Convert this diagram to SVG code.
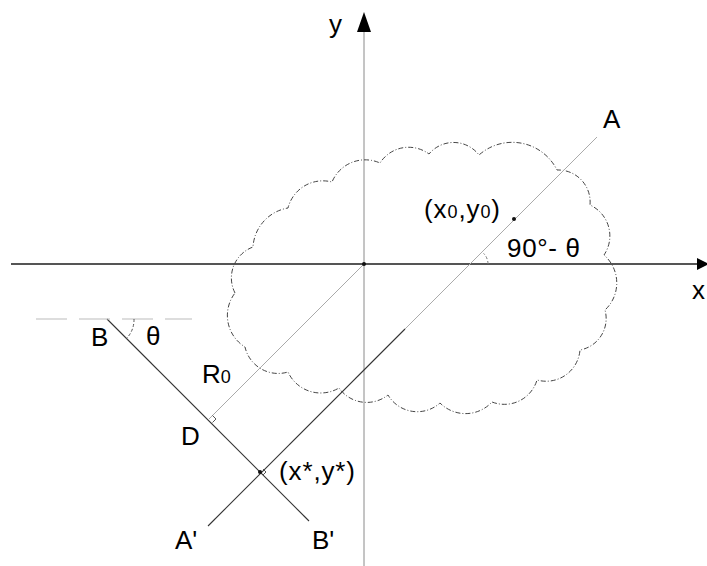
<svg xmlns="http://www.w3.org/2000/svg" width="707" height="566" viewBox="0 0 707 566">
<style>
.lbl{font-family:"Liberation Sans",Arial,sans-serif;font-size:26px;fill:#000}
.sub{font-size:18px}
.dark{stroke:#333;stroke-width:1.1;fill:none}
.light{stroke:#aaa;stroke-width:1;fill:none}
.cloud{stroke:#444;stroke-width:1;fill:none;stroke-dasharray:5 2 1 2}
.dot{fill:#111}
</style>
<rect width="707" height="566" fill="#fff"/>
<g id="axes">
<line x1="364" y1="30" x2="364" y2="566" stroke="#8a8a8a" stroke-width="1"/>
<polygon points="364,12 357,32 371,32" fill="#000"/>
<line x1="11" y1="264" x2="699" y2="264" stroke="#555" stroke-width="2"/>
<polygon points="697,258 697,270 709,264" fill="#000"/>
</g>
<g id="cloud">
<path class="cloud" d="M235,293 A33,33 0 0 1 253,247 A42,42 0 0 1 288,208 A36,36 0 0 1 332,182 A36,36 0 0 1 380,163 A34,34 0 0 1 429,154 A32,32 0 0 1 479,155 A50,50 0 0 1 557,170 A32,32 0 0 1 590,205 A34,34 0 0 1 604,255 A37,37 0 0 1 605,310 A32,32 0 0 1 580,350 A34,34 0 0 1 537,380 A34,34 0 0 1 492,402 A36,36 0 0 1 440,403 A34,34 0 0 1 388,395 A34,34 0 0 1 339,388 A36,36 0 0 1 288,372 A34,34 0 0 1 245,347 A37,37 0 0 1 235,293 Z"/>
</g>
<g id="connectors">
<line class="dark" x1="208" y1="526" x2="405" y2="329"/>
<line class="light" x1="405" y1="329" x2="597" y2="137" stroke="#bbb"/>
<line class="dark" x1="107" y1="319" x2="309" y2="521"/>
<line class="light" x1="364" y1="264" x2="209" y2="419"/>
<line x1="36" y1="319" x2="192" y2="319" stroke="#bbb" stroke-width="1" stroke-dasharray="31 12"/>
<path d="M134,319 A27,27 0 0 1 126.5,338.5" fill="none" stroke="#555" stroke-width="1" stroke-dasharray="3 2"/>
<path d="M488,264 A15,15 0 0 0 483.6,253.4" fill="none" stroke="#777" stroke-width="1" stroke-dasharray="3 2"/>
<path d="M212.5,415.5 L216,419 L212.5,422.5" fill="none" stroke="#555" stroke-width="1"/>
<path d="M263,469 L266,472 L263,475" fill="none" stroke="#555" stroke-width="1"/>
</g>
<g id="points">
<circle class="dot" cx="364" cy="264" r="2"/>
<circle class="dot" cx="514" cy="219" r="2"/>
<circle class="dot" cx="260" cy="472" r="2"/>
</g>
<g id="labels">
<text class="lbl" x="329" y="33">y</text>
<text class="lbl" x="692" y="299">x</text>
<text class="lbl" x="603" y="128">A</text>
<text class="lbl" x="424" y="218" textLength="76" lengthAdjust="spacing">(x<tspan class="sub">0</tspan>,y<tspan class="sub">0</tspan>)</text>
<text class="lbl" x="507" y="257" textLength="73" lengthAdjust="spacing">90°- θ</text>
<text class="lbl" x="91" y="346">B</text>
<text class="lbl" x="146" y="345">θ</text>
<text class="lbl" x="202" y="383">R<tspan class="sub">0</tspan></text>
<text class="lbl" x="181" y="445">D</text>
<text class="lbl" x="279" y="480" textLength="76" lengthAdjust="spacing">(x*,y*)</text>
<text class="lbl" x="175" y="549">A'</text>
<text class="lbl" x="312" y="549">B'</text>
</g>
</svg>
